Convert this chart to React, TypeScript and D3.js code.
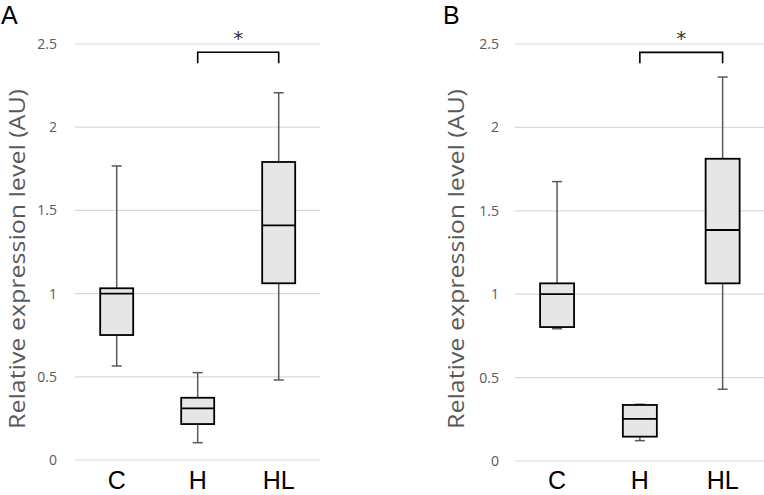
import React from "react";
import * as d3 from "d3";

const categories = ["C", "H", "HL"];
const yTicks = [0, 0.5, 1, 1.5, 2, 2.5];
const yTickLabels = ["0", "0.5", "1", "1.5", "2", "2.5"];
// [whiskerLow, q1, median, q3, whiskerHigh]
const panelAStats = [
  [0.565, 0.751, 1.0, 1.032, 1.767],
  [0.104, 0.216, 0.31, 0.374, 0.525],
  [0.481, 1.062, 1.41, 1.791, 2.207],
];
const panelBStats = [
  [0.793, 0.803, 1.0, 1.065, 1.675],
  [0.122, 0.146, 0.252, 0.336, 0.34],
  [0.43, 1.065, 1.385, 1.812, 2.302],
];
const bracketPair = ["H", "HL"];
const bracketTop = 2.45;
const bracketLeg = 2.385;
const panelLetters = ["A", "B"];
const yTitle = "Relative expression level (AU)";

type PanelProps = {
  letter: string;
  stats: number[][];
  gridX0: number;
  gridX1: number;
  y0: number;
  y1: number;
  bandX0: number;
  bandX1: number;
  tickRight: number;
  titleX: number;
  letterX: number;
  boxW: number;
};

function Panel(p: PanelProps) {
  const y = d3.scaleLinear().domain([0, 2.5]).range([p.y0, p.y1]);
  const x = d3.scaleBand().domain(categories).range([p.bandX0, p.bandX1]).padding(0);
  const cx = (c: string) => (x(c) as number) + x.bandwidth() / 2;
  const capW = 10;
  const bx0 = cx(bracketPair[0]);
  const bx1 = cx(bracketPair[1]);
  const bracketPath = d3.path();
  bracketPath.moveTo(bx0, y(bracketLeg));
  bracketPath.lineTo(bx0, y(bracketTop));
  bracketPath.lineTo(bx1, y(bracketTop));
  bracketPath.lineTo(bx1, y(bracketLeg));
  return (
    <g>
      <text x={p.letterX} y={24} fontSize={25} fontFamily="Liberation Sans, Arial, sans-serif" fill="#000">
        {p.letter}
      </text>
      {yTicks.map((t, i) => (
        <g key={i}>
          <line x1={p.gridX0} x2={p.gridX1} y1={y(t)} y2={y(t)} stroke="#d9d9d9" strokeWidth={1.2} />
          <text
            x={p.tickRight}
            y={y(t)}
            dy="0.35em"
            textAnchor="end"
            fontSize={14}
            fontFamily="Open Sans, sans-serif"
            fill="#595959"
          >
            {yTickLabels[i]}
          </text>
        </g>
      ))}
      <text
        transform={`translate(${p.titleX},259) rotate(-90)`}
        textAnchor="middle"
        fontSize={22}
        textLength={340}
        lengthAdjust="spacingAndGlyphs"
        fontFamily="Open Sans, sans-serif"
        fill="#595959"
      >
        {yTitle}
      </text>
      {categories.map((c, i) => {
        const [lo, q1, med, q3, hi] = p.stats[i];
        const c0 = cx(c);
        return (
          <g key={c}>
            <line x1={c0} x2={c0} y1={y(hi)} y2={y(q3)} stroke="#595959" strokeWidth={1.5} />
            <line x1={c0} x2={c0} y1={y(q1)} y2={y(lo)} stroke="#595959" strokeWidth={1.5} />
            <line x1={c0 - capW / 2} x2={c0 + capW / 2} y1={y(hi)} y2={y(hi)} stroke="#595959" strokeWidth={1.5} />
            <line x1={c0 - capW / 2} x2={c0 + capW / 2} y1={y(lo)} y2={y(lo)} stroke="#595959" strokeWidth={1.5} />
            <rect
              x={c0 - p.boxW / 2}
              y={y(q3)}
              width={p.boxW}
              height={y(q1) - y(q3)}
              fill="#e6e6e6"
              stroke="#000"
              strokeWidth={1.8}
            />
            <line x1={c0 - p.boxW / 2} x2={c0 + p.boxW / 2} y1={y(med)} y2={y(med)} stroke="#000" strokeWidth={1.8} />
            <text
              x={c0}
              y={489}
              textAnchor="middle"
              fontSize={25}
              fontFamily="Liberation Sans, Arial, sans-serif"
              fill="#000"
            >
              {c}
            </text>
          </g>
        );
      })}
      <path d={bracketPath.toString()} fill="none" stroke="#000" strokeWidth={1.6} />
      <text
        x={(bx0 + bx1) / 2}
        y={45}
        textAnchor="middle"
        fontSize={20}
        fontFamily="DejaVu Sans, sans-serif"
        fill="#333"
      >
        *
      </text>
    </g>
  );
}

export default function App() {
  return (
    <svg width={764} height={495} style={{ position: "absolute", left: 0, top: 0, background: "#fff" }}>
      <rect width={764} height={495} fill="#fff" />
      <Panel
        letter={panelLetters[0]}
        stats={panelAStats}
        gridX0={75}
        gridX1={320}
        y0={460}
        y1={44}
        bandX0={76.2}
        bandX1={319.2}
        tickRight={57}
        titleX={25}
        letterX={1}
        boxW={33}
      />
      <Panel
        letter={panelLetters[1]}
        stats={panelBStats}
        gridX0={515}
        gridX1={764}
        y0={461}
        y1={44}
        bandX0={515.7}
        bandX1={764}
        tickRight={499}
        titleX={464}
        letterX={443}
        boxW={34}
      />
    </svg>
  );
}
